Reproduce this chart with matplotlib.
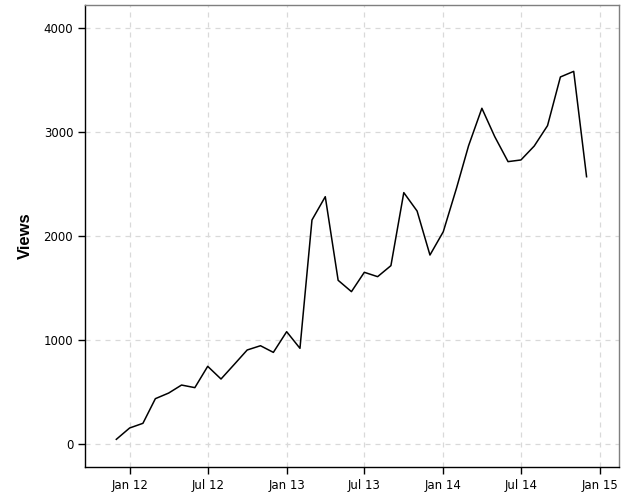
import matplotlib
matplotlib.use("Agg")
import matplotlib.pyplot as plt
import matplotlib.dates as mdates
import pandas as pd
import datetime as dt

months = pd.date_range("2011-12-01", "2014-12-01", freq="MS")
views = [45, 154, 199, 436, 490, 567, 542, 747, 625, 766, 904, 945, 881,
         1080, 920, 2154, 2378, 1574, 1465, 1651, 1609, 1715, 2417, 2240, 1817,
         2041, 2462, 2868, 3228, 2955, 2715, 2731, 2865, 3061, 3529, 3583, 2570]
xtick_dates = ["2012-01-01", "2012-07-01", "2013-01-01", "2013-07-01",
               "2014-01-01", "2014-07-01", "2015-01-01"]
xtick_labels = ["Jan 12", "Jul 12", "Jan 13", "Jul 13", "Jan 14", "Jul 14", "Jan 15"]
yticks = [0, 1000, 2000, 3000, 4000]

fig = plt.figure(figsize=(6.25, 5), dpi=100)
ax = fig.add_axes([0.136, 0.066, 0.854, 0.924])
ax.plot(months, views, color="black", linewidth=1.1)

ax.set_xlim(dt.datetime(2011, 9, 19), dt.datetime(2015, 2, 14))
ax.set_ylim(-221, 4221)
ax.set_xticks([pd.Timestamp(d) for d in xtick_dates])
ax.set_xticklabels(xtick_labels)
ax.set_yticks(yticks)
ax.set_yticklabels([str(v) for v in yticks])
ax.tick_params(axis="both", direction="out", length=5, width=1, color="black",
               labelsize=8.5, labelcolor="black")
ax.grid(True, linestyle=(0, (4, 4)), color="#d9d9d9", linewidth=0.9)
ax.set_axisbelow(True)
ax.set_ylabel("Views", fontsize=12, fontweight="bold", family="Liberation Sans", labelpad=8)

for s in ["left", "bottom"]:
    ax.spines[s].set_color("black")
    ax.spines[s].set_linewidth(1.0)
for s in ["top", "right"]:
    ax.spines[s].set_color("#7f7f7f")
    ax.spines[s].set_linewidth(1.0)

fig.savefig("out.png", dpi=100)
